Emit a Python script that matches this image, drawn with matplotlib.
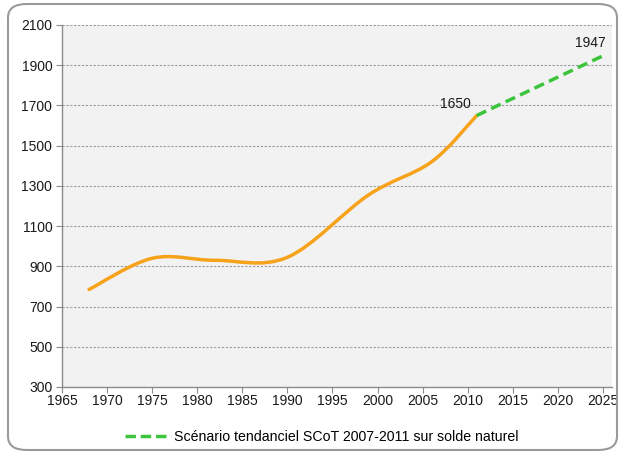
import matplotlib
matplotlib.use("Agg")
import matplotlib.pyplot as plt
from matplotlib.path import Path
from matplotlib.patches import PathPatch, FancyBboxPatch
from matplotlib.lines import Line2D
import numpy as np

plt.rcParams['font.family'] = ['Liberation Sans', 'DejaVu Sans']

# Data
hist_years = [1968, 1975, 1982, 1990, 1999, 2006, 2011]
hist_values = [785, 940, 930, 945, 1255, 1420, 1650]
scen_years = [2011, 2025]
scen_values = [1650, 1947]
legend_label = "Scénario tendanciel SCoT 2007-2011 sur solde naturel"
x_ticks = list(range(1965, 2026, 5))
y_ticks = list(range(300, 2101, 200))

W, H = 620, 457
fig = plt.figure(figsize=(W / 100, H / 100), dpi=100)
fig.patch.set_facecolor('white')

# rounded frame
frame = FancyBboxPatch((8 / W, 7 / H), (609 / W), (446 / H),
                       boxstyle="round,pad=0,rounding_size=0.03",
                       transform=fig.transFigure, facecolor='none',
                       edgecolor='#9a9a9a', lw=1.5, zorder=0)
fig.patches.append(frame)

ax = fig.add_axes([62 / W, 1 - 387 / H, (612 - 62) / W, (387 - 25) / H])
ax.set_facecolor('#f2f2f2')
ax.set_xlim(1965, 2026)
ax.set_ylim(300, 2100)
ax.set_xticks(x_ticks)
ax.set_yticks(y_ticks)
for s in ['top', 'right']:
    ax.spines[s].set_visible(False)
for s in ['left', 'bottom']:
    ax.spines[s].set_color('#8c8c8c')
    ax.spines[s].set_linewidth(1.0)
ax.tick_params(axis='both', colors='#8c8c8c', labelcolor='#1a1a1a',
               labelsize=10, length=4, width=0.8, direction='out')
ax.tick_params(axis='x', pad=1)
ax.tick_params(axis='y', pad=3)
ax.grid(axis='y', color='#9a9a9a', linestyle=(0, (2, 1.5)), linewidth=0.8)
ax.set_axisbelow(True)


def smooth_path(xs, ys):
    pts = list(zip(xs, ys))
    n = len(pts)
    verts = [pts[0]]
    codes = [Path.MOVETO]
    for i in range(n - 1):
        p0 = np.array(pts[i - 1] if i > 0 else pts[i])
        p1 = np.array(pts[i])
        p2 = np.array(pts[i + 1])
        p3 = np.array(pts[i + 2] if i + 2 < n else pts[i + 1])
        c1 = p1 + (p2 - p0) / 6.0
        c2 = p2 - (p3 - p1) / 6.0
        verts += [tuple(c1), tuple(c2), tuple(p2)]
        codes += [Path.CURVE4] * 3
    return Path(verts, codes)


orange = '#f7a21b'
green = '#3cc43c'
patch = PathPatch(smooth_path(hist_years, hist_values), facecolor='none',
                  edgecolor=orange, lw=2.5, capstyle='round', zorder=3)
ax.add_patch(patch)

ax.plot(scen_years, scen_values, color=green, lw=2.5,
        linestyle=(0, (3, 1.6)), zorder=4, clip_on=False)

ax.annotate(f"{hist_values[-1]}", (hist_years[-1], hist_values[-1]),
            xytext=(-4, 3), textcoords='offset points', ha='right',
            va='bottom', fontsize=10, color='#1a1a1a')
ax.annotate(f"{scen_values[-1]}", (scen_years[-1], scen_values[-1]),
            xytext=(2, 4), textcoords='offset points', ha='right',
            va='bottom', fontsize=10, color='#1a1a1a')

handle = Line2D([0], [0], color=green, lw=2.5, linestyle=(0, (3, 1.4)))
fig.legend([handle], [legend_label], loc='center',
           bbox_to_anchor=(0.519, 1 - 437 / H), frameon=False,
           fontsize=10.2, handlelength=3.2, handletextpad=0.2)

fig.savefig('out.png', dpi=100, facecolor='white')
